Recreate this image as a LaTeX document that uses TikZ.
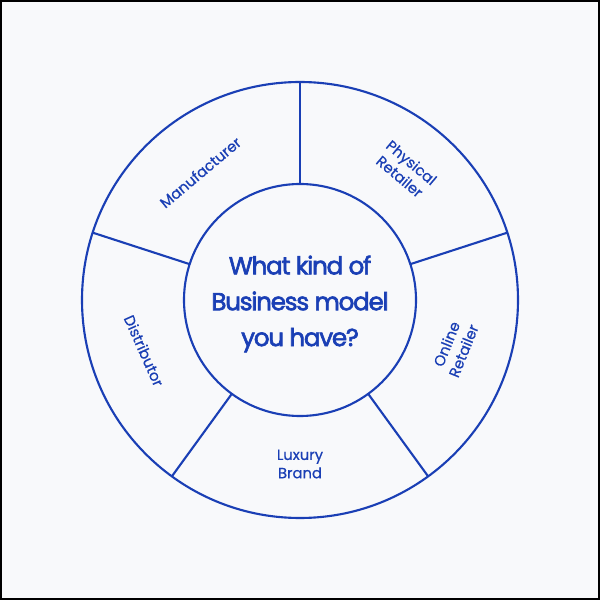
\documentclass[tikz,border=0pt]{standalone}
\usepackage{fontspec}
\setmainfont{Poppins}[FakeBold=0.6]
\newfontfamily\hubfont{Poppins}[FakeBold=2.5,LetterSpace=-5]
\usepackage{tikz}
\usetikzlibrary{calc}
\definecolor{wheelblue}{HTML}{1A3FB5}
\definecolor{paper}{HTML}{F8F9FB}
\begin{document}
\begin{tikzpicture}
    \useasboundingbox (0,0) rectangle (15,15);
    \fill[paper] (0,0) rectangle (15,15);
    \draw[line width=0.05cm,black] (0.025,0.025) rectangle (14.975,14.975);

    \coordinate (centre) at (7.5,7.5);

    \node[circle,draw=wheelblue,line width=1.5pt,outer sep=0pt,minimum size=10.9cm] (rim) at (centre) {};
    \node[circle,draw=wheelblue,line width=1.5pt,outer sep=0pt,minimum size=5.8cm] (hub) at (centre) {};
    \node[text=wheelblue,align=center,font=\hubfont\fontsize{17.5}{25.5}\selectfont] (question)
        at ($(centre)+(0,-0.1)$) {What kind of\\Business model\\you have?};

    \foreach \a in {90,18,-54,-126,162}
        \draw[line width=1.5pt,wheelblue] (hub.\a) -- (rim.\a);

    \foreach \a/\r/\rot/\txt/\name in {128/4.05/40/Manufacturer/manufacturer,
                                    51/4.2/-40/Physical\\Retailer/physical,
                                    -17/4.05/68/Online\\Retailer/online,
                                    198/4.1/-66/Distributor/distributor,
                                    270/4.1/0/Luxury\\Brand/luxury}
        \node[text=wheelblue,align=center,font=\fontsize{10.5}{13}\selectfont,rotate=\rot]
            (\name) at ($(centre)+(\a:\r)$) {\txt};
  \end{tikzpicture}
\end{document}
